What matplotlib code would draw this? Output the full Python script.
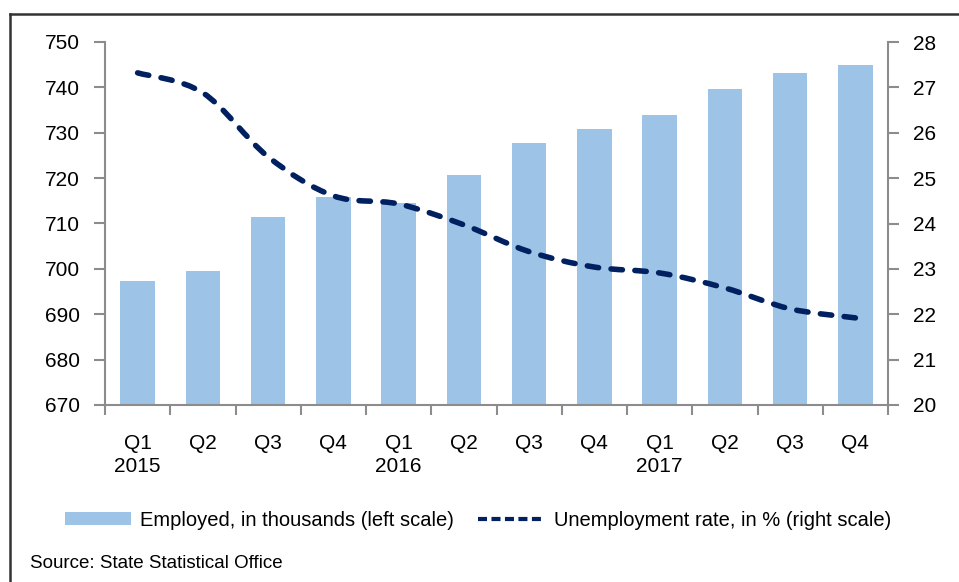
import numpy as np
import matplotlib
matplotlib.use("Agg")
import matplotlib.pyplot as plt
from matplotlib.path import Path
from matplotlib.patches import PathPatch, Patch
from matplotlib.lines import Line2D

plt.rcParams['font.family'] = ['Liberation Sans', 'DejaVu Sans']
plt.rcParams['lines.scale_dashes'] = False  # dash lengths given in points

# quarterly data
quarters = ['Q1', 'Q2', 'Q3', 'Q4'] * 3
years = ['2015', '', '', '', '2016', '', '', '', '2017', '', '', '']
employed = [697.3, 699.5, 711.4, 715.8, 714.5, 720.7,
            727.7, 730.8, 733.9, 739.6, 743.2, 744.9]
unemployment = [27.32, 26.88, 25.47, 24.61, 24.43, 23.97,
                23.38, 23.04, 22.91, 22.58, 22.12, 21.92]

bar_color = '#9dc3e6'
line_color = '#002060'
axis_gray = '#8c8c8c'
fs = 15

W, H = 959, 582
fig = plt.figure(figsize=(W / 100, H / 100), dpi=100)
ax = fig.add_axes([105 / W, 1 - 405 / H, (888 - 105) / W, (405 - 42) / H])
ax2 = ax.twinx()

x = np.arange(len(employed))
ax.bar(x, [v - 670 for v in employed], bottom=670, width=0.53,
       color=bar_color, zorder=2)

# smoothed line (cubic bezier through each point)
pts = np.column_stack([x, unemployment]).astype(float)
n = len(pts)
verts = [pts[0]]
codes = [Path.MOVETO]
for i in range(n - 1):
    p0 = pts[max(i - 1, 0)]
    p1 = pts[i]
    p2 = pts[i + 1]
    p3 = pts[min(i + 2, n - 1)]
    c1 = p1 + (p2 - p0) / 6
    c2 = p2 - (p3 - p1) / 6
    verts += [c1, c2, p2]
    codes += [Path.CURVE4] * 3
curve = PathPatch(Path(verts, codes), fill=False, edgecolor=line_color,
                  linewidth=4.0, linestyle=(0, (8.2, 9.0)), capstyle='round',
                  zorder=3)
ax2.add_patch(curve)

ax.set_xlim(-0.5, 11.5)
ax.set_ylim(670, 750)
ax2.set_ylim(20, 28)
ax.set_yticks(range(670, 751, 10))
ax2.set_yticks(range(20, 29, 1))

ax.set_xticks(x)
ax.set_xticklabels([f'{q}\n{y}' if y else q for q, y in zip(quarters, years)],
                   va='top', linespacing=1.25)
ax.set_xticks(np.arange(-0.5, 12, 1), minor=True)
ax.tick_params(axis='x', which='major', length=0, pad=21, labelsize=fs)
ax.tick_params(axis='x', which='minor', length=7, width=1.5, color=axis_gray,
               direction='out')
ax.tick_params(axis='y', length=8, width=1.5, color=axis_gray, pad=10,
               labelsize=fs)
ax2.tick_params(axis='y', length=8, width=1.5, color=axis_gray, pad=10,
                labelsize=fs)
for a in (ax, ax2):
    a.spines['top'].set_visible(False)
    for s in ('left', 'right', 'bottom'):
        a.spines[s].set_color(axis_gray)
        a.spines[s].set_linewidth(1.5)
ax.spines['right'].set_visible(False)
ax2.spines['left'].set_visible(False)
ax2.spines['bottom'].set_visible(False)

handles = [Patch(facecolor=bar_color, edgecolor='none'),
           Line2D([], [], color=line_color, linewidth=3.0,
                  linestyle=(0, (6.5, 3.2)), dash_capstyle='butt')]
labels = ['Employed, in thousands (left scale)',
          'Unemployment rate, in % (right scale)']
fig.legend(handles, labels, loc='center', bbox_to_anchor=(478 / W, 1 - 520 / H),
           ncol=2, frameon=False, fontsize=14.5, handlelength=3.3,
           handleheight=0.6, handletextpad=0.45, columnspacing=1.2)

fig.text(30 / W, 1 - 564 / H, 'Source: State Statistical Office',
         fontsize=13.5, va='center', ha='left')

# outer frame (left and top edges)
fig.add_artist(Line2D([10 / W, 10 / W], [1 - 14 / H, 0], color='#333333',
                      linewidth=1.8, transform=fig.transFigure))
fig.add_artist(Line2D([10 / W, 1], [1 - 14 / H, 1 - 14 / H], color='#333333',
                      linewidth=1.8, transform=fig.transFigure))

fig.savefig('out.png', dpi=100)
